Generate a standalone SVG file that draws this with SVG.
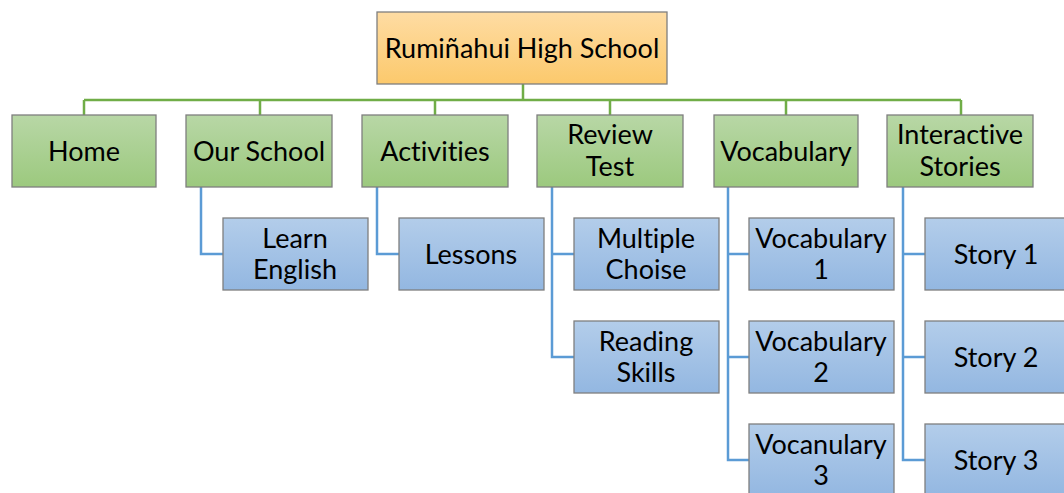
<svg xmlns="http://www.w3.org/2000/svg" width="1064" height="493" viewBox="0 0 1064 493">
<defs>
<linearGradient id="gO" x1="0" y1="0" x2="0" y2="1"><stop offset="0" stop-color="#fedca3"/><stop offset="1" stop-color="#fcc96c"/></linearGradient>
<linearGradient id="gG" x1="0" y1="0" x2="0" y2="1"><stop offset="0" stop-color="#b8d7a6"/><stop offset="1" stop-color="#9cc97e"/></linearGradient>
<linearGradient id="gB" x1="0" y1="0" x2="0" y2="1"><stop offset="0" stop-color="#b3cdea"/><stop offset="1" stop-color="#93b7e1"/></linearGradient>
</defs>
<style>
rect{stroke:#7f7f7f;stroke-width:1.3}
.o{fill:url(#gO)}.g{fill:url(#gG)}.b{fill:url(#gB)}
text{font-family:Lato,"Open Sans","Liberation Sans",sans-serif;font-size:27px;fill:#000;text-anchor:middle;font-variant-ligatures:none;font-feature-settings:"liga" 0,"dlig" 0}
.cg{stroke:#70ad47;stroke-width:2.5;fill:none}
.cb{stroke:#5b9bd5;stroke-width:2.5;fill:none}
</style>
<rect width="1064" height="493" fill="#fff" style="stroke:none"/>
<g id="connectors">
<path class="cg" d="M523 84V100M84 100H961M84 100V115M260 100V115M435 100V115M610 100V115M786 100V115M961 100V115"/>
<path class="cb" d="M201 187V254H223"/>
<path class="cb" d="M377 187V254H399"/>
<path class="cb" d="M552 187V357H574M552 254H574"/>
<path class="cb" d="M728 187V460H749M728 254H749M728 357H749"/>
<path class="cb" d="M903 187V460H925M903 254H925M903 357H925"/>
</g>
<g id="root"><rect class="o" x="377" y="12" width="290" height="72"/><text x="522" y="58">Rumiñahui High School</text></g>
<g id="home"><rect class="g" x="12" y="115" width="144" height="72"/><text x="84" y="161">Home</text></g>
<g id="our-school"><rect class="g" x="186" y="115" width="146" height="72"/><text x="259" y="161">Our School</text></g>
<g id="activities"><rect class="g" x="362" y="115" width="146" height="72"/><text x="435" y="161">Activities</text></g>
<g id="review-test"><rect class="g" x="537" y="115" width="146" height="72"/><text x="610" y="144">Review</text><text x="610" y="176">Test</text></g>
<g id="vocabulary"><rect class="g" x="714" y="115" width="144" height="72"/><text x="786" y="161">Vocabulary</text></g>
<g id="interactive-stories"><rect class="g" x="887" y="115" width="146" height="72"/><text x="960" y="144">Interactive</text><text x="960" y="176">Stories</text></g>
<g id="learn-english"><rect class="b" x="223" y="218" width="145" height="72"/><text x="295" y="248">Learn</text><text x="295" y="279">English</text></g>
<g id="lessons"><rect class="b" x="399" y="218" width="145" height="72"/><text x="471" y="264">Lessons</text></g>
<g id="multiple-choise"><rect class="b" x="574" y="218" width="145" height="72"/><text x="646" y="248">Multiple</text><text x="646" y="279">Choise</text></g>
<g id="reading-skills"><rect class="b" x="574" y="321" width="145" height="72"/><text x="646" y="351">Reading</text><text x="646" y="382">Skills</text></g>
<g id="vocabulary-1"><rect class="b" x="749" y="218" width="145" height="72"/><text x="821" y="248">Vocabulary</text><text x="821" y="279">1</text></g>
<g id="vocabulary-2"><rect class="b" x="749" y="321" width="145" height="72"/><text x="821" y="351">Vocabulary</text><text x="821" y="382">2</text></g>
<g id="vocanulary-3"><rect class="b" x="749" y="424" width="145" height="72"/><text x="821" y="454">Vocanulary</text><text x="821" y="485">3</text></g>
<g id="story-1"><rect class="b" x="925" y="218" width="145" height="72"/><text x="996" y="264">Story 1</text></g>
<g id="story-2"><rect class="b" x="925" y="321" width="145" height="72"/><text x="996" y="367">Story 2</text></g>
<g id="story-3"><rect class="b" x="925" y="424" width="145" height="72"/><text x="996" y="470">Story 3</text></g>
</svg>
